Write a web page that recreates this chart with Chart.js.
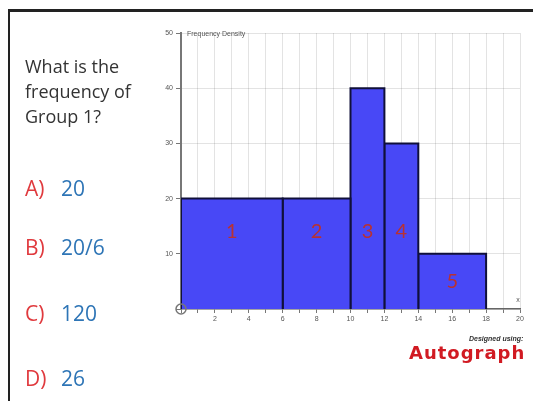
<!DOCTYPE html>
<html>
<head>
<meta charset="utf-8">
<script src="https://cdn.jsdelivr.net/npm/chart.js@4/dist/chart.umd.min.js"></script>
<style>
  html, body { margin: 0; padding: 0; background: #fff; }
  body { width: 533px; height: 401px; position: relative; overflow: hidden; font-family: "Open Sans", sans-serif; }
  #frame { position: absolute; left: 8px; top: 9px; width: 540px; height: 420px; border-left: 2px solid #222; border-top: 3px solid #222; }
  #wrap { position: absolute; left: 0; top: 0; width: 533px; height: 401px; }
  .q { position: absolute; left: 25px; font-size: 18px; color: #333; line-height: 25px; }
  .ans { position: absolute; left: 25px; font-size: 21px; line-height: 24px; }
  .ans .k { color: #e03a3e; position: absolute; left: 0; }
  .ans .v { color: #2e75b6; position: absolute; left: 36px; white-space: nowrap; }
  #designed { position: absolute; left: 469px; top: 335px; font: italic bold 7px "Liberation Sans", sans-serif; color: #333; }
  #logo { position: absolute; left: 409px; top: 342px; font: bold 18px "DejaVu Sans", sans-serif; color: #d11a22; letter-spacing: 1px; }
</style>
</head>
<body>
<div id="frame"></div>
<div id="wrap"><canvas id="hist" width="533" height="401"></canvas></div>
<div class="q" style="top:54px">What is the<br>frequency of<br>Group 1?</div>
<div class="ans" style="top:176px"><span class="k">A)</span><span class="v">20</span></div>
<div class="ans" style="top:235px"><span class="k">B)</span><span class="v">20/6</span></div>
<div class="ans" style="top:301px"><span class="k">C)</span><span class="v">120</span></div>
<div class="ans" style="top:366px"><span class="k">D)</span><span class="v">26</span></div>
<div id="designed">Designed using:</div>
<div id="logo">Autograph</div>
<script>
// class boundaries and frequency densities
const groupLower = [0, 6, 10, 12, 14];
const groupUpper = [6, 10, 12, 14, 18];
const densities = [20, 20, 40, 30, 10];
const groupNames = ["1", "2", "3", "4", "5"];
const yAxisTitle = "Frequency Density";
const xAxisTitle = "x";

const datasets = densities.map((d, i) => ({
  data: [
    { x: groupLower[i], y: 0 },
    { x: groupLower[i], y: d },
    { x: groupUpper[i], y: d },
    { x: groupUpper[i], y: 0 },
  ],
  fill: "origin",
  backgroundColor: "#4848f6",
  borderColor: "#10103a",
  borderWidth: 2,
  pointRadius: 0,
  tension: 0,
}));

const extras = {
  id: "extras",
  afterDraw(chart) {
    const ctx = chart.ctx;
    const x = chart.scales.x, y = chart.scales.y;
    ctx.save();
    // origin circle
    ctx.strokeStyle = "#777";
    ctx.lineWidth = 1.5;
    ctx.beginPath();
    ctx.arc(x.getPixelForValue(0), y.getPixelForValue(0), 5, 0, Math.PI * 2);
    ctx.stroke();
    // axis titles
    ctx.fillStyle = "#555";
    ctx.font = "7px 'Liberation Sans'";
    ctx.textBaseline = "middle";
    ctx.fillText(yAxisTitle, x.getPixelForValue(0) + 6, y.getPixelForValue(50) + 1);
    ctx.textAlign = "center";
    ctx.fillText(xAxisTitle, x.getPixelForValue(20) - 2, y.getPixelForValue(0) - 9);
    // hand-written group numbers
    ctx.fillStyle = "#b83232";
    ctx.font = "20px Lato";
    densities.forEach((d, i) => {
      const mid = (groupLower[i] + groupUpper[i]) / 2;
      const h = d > 10 ? 14 : d / 2;
      ctx.fillText(groupNames[i], x.getPixelForValue(mid), y.getPixelForValue(h));
    });
    ctx.restore();
  },
};

new Chart(document.getElementById("hist"), {
  type: "line",
  data: { datasets },
  options: {
    responsive: false,
    animation: false,
    layout: { padding: { left: 151, top: 33, right: 13, bottom: 72 } },
    plugins: { legend: { display: false }, tooltip: { enabled: false } },
    scales: {
      x: {
        type: "linear",
        min: 0,
        max: 20,
        z: 1,
        afterFit: (s) => { s.height = 20; },
        ticks: {
          stepSize: 1,
          autoSkip: false,
          maxRotation: 0,
          padding: 2,
          color: "#555",
          font: { size: 7, family: "Liberation Sans" },
          callback: (v) => (v > 0 && v % 2 === 0 ? v : ""),
        },
        grid: { color: "rgba(0,0,0,0.11)", tickColor: "#777", tickLength: 4 },
        border: { color: "#666", width: 1.5 },
      },
      y: {
        min: 0,
        max: 50,
        z: 1,
        afterFit: (s) => { s.width = 30; },
        ticks: {
          stepSize: 10,
          padding: 3,
          color: "#555",
          font: { size: 7, family: "Liberation Sans" },
          callback: (v) => (v === 0 ? "" : v),
        },
        grid: { color: "rgba(0,0,0,0.11)", tickColor: "#777", tickLength: 5 },
        border: { color: "#777", width: 2 },
      },
    },
  },
  plugins: [extras],
});
</script>
</body>
</html>
